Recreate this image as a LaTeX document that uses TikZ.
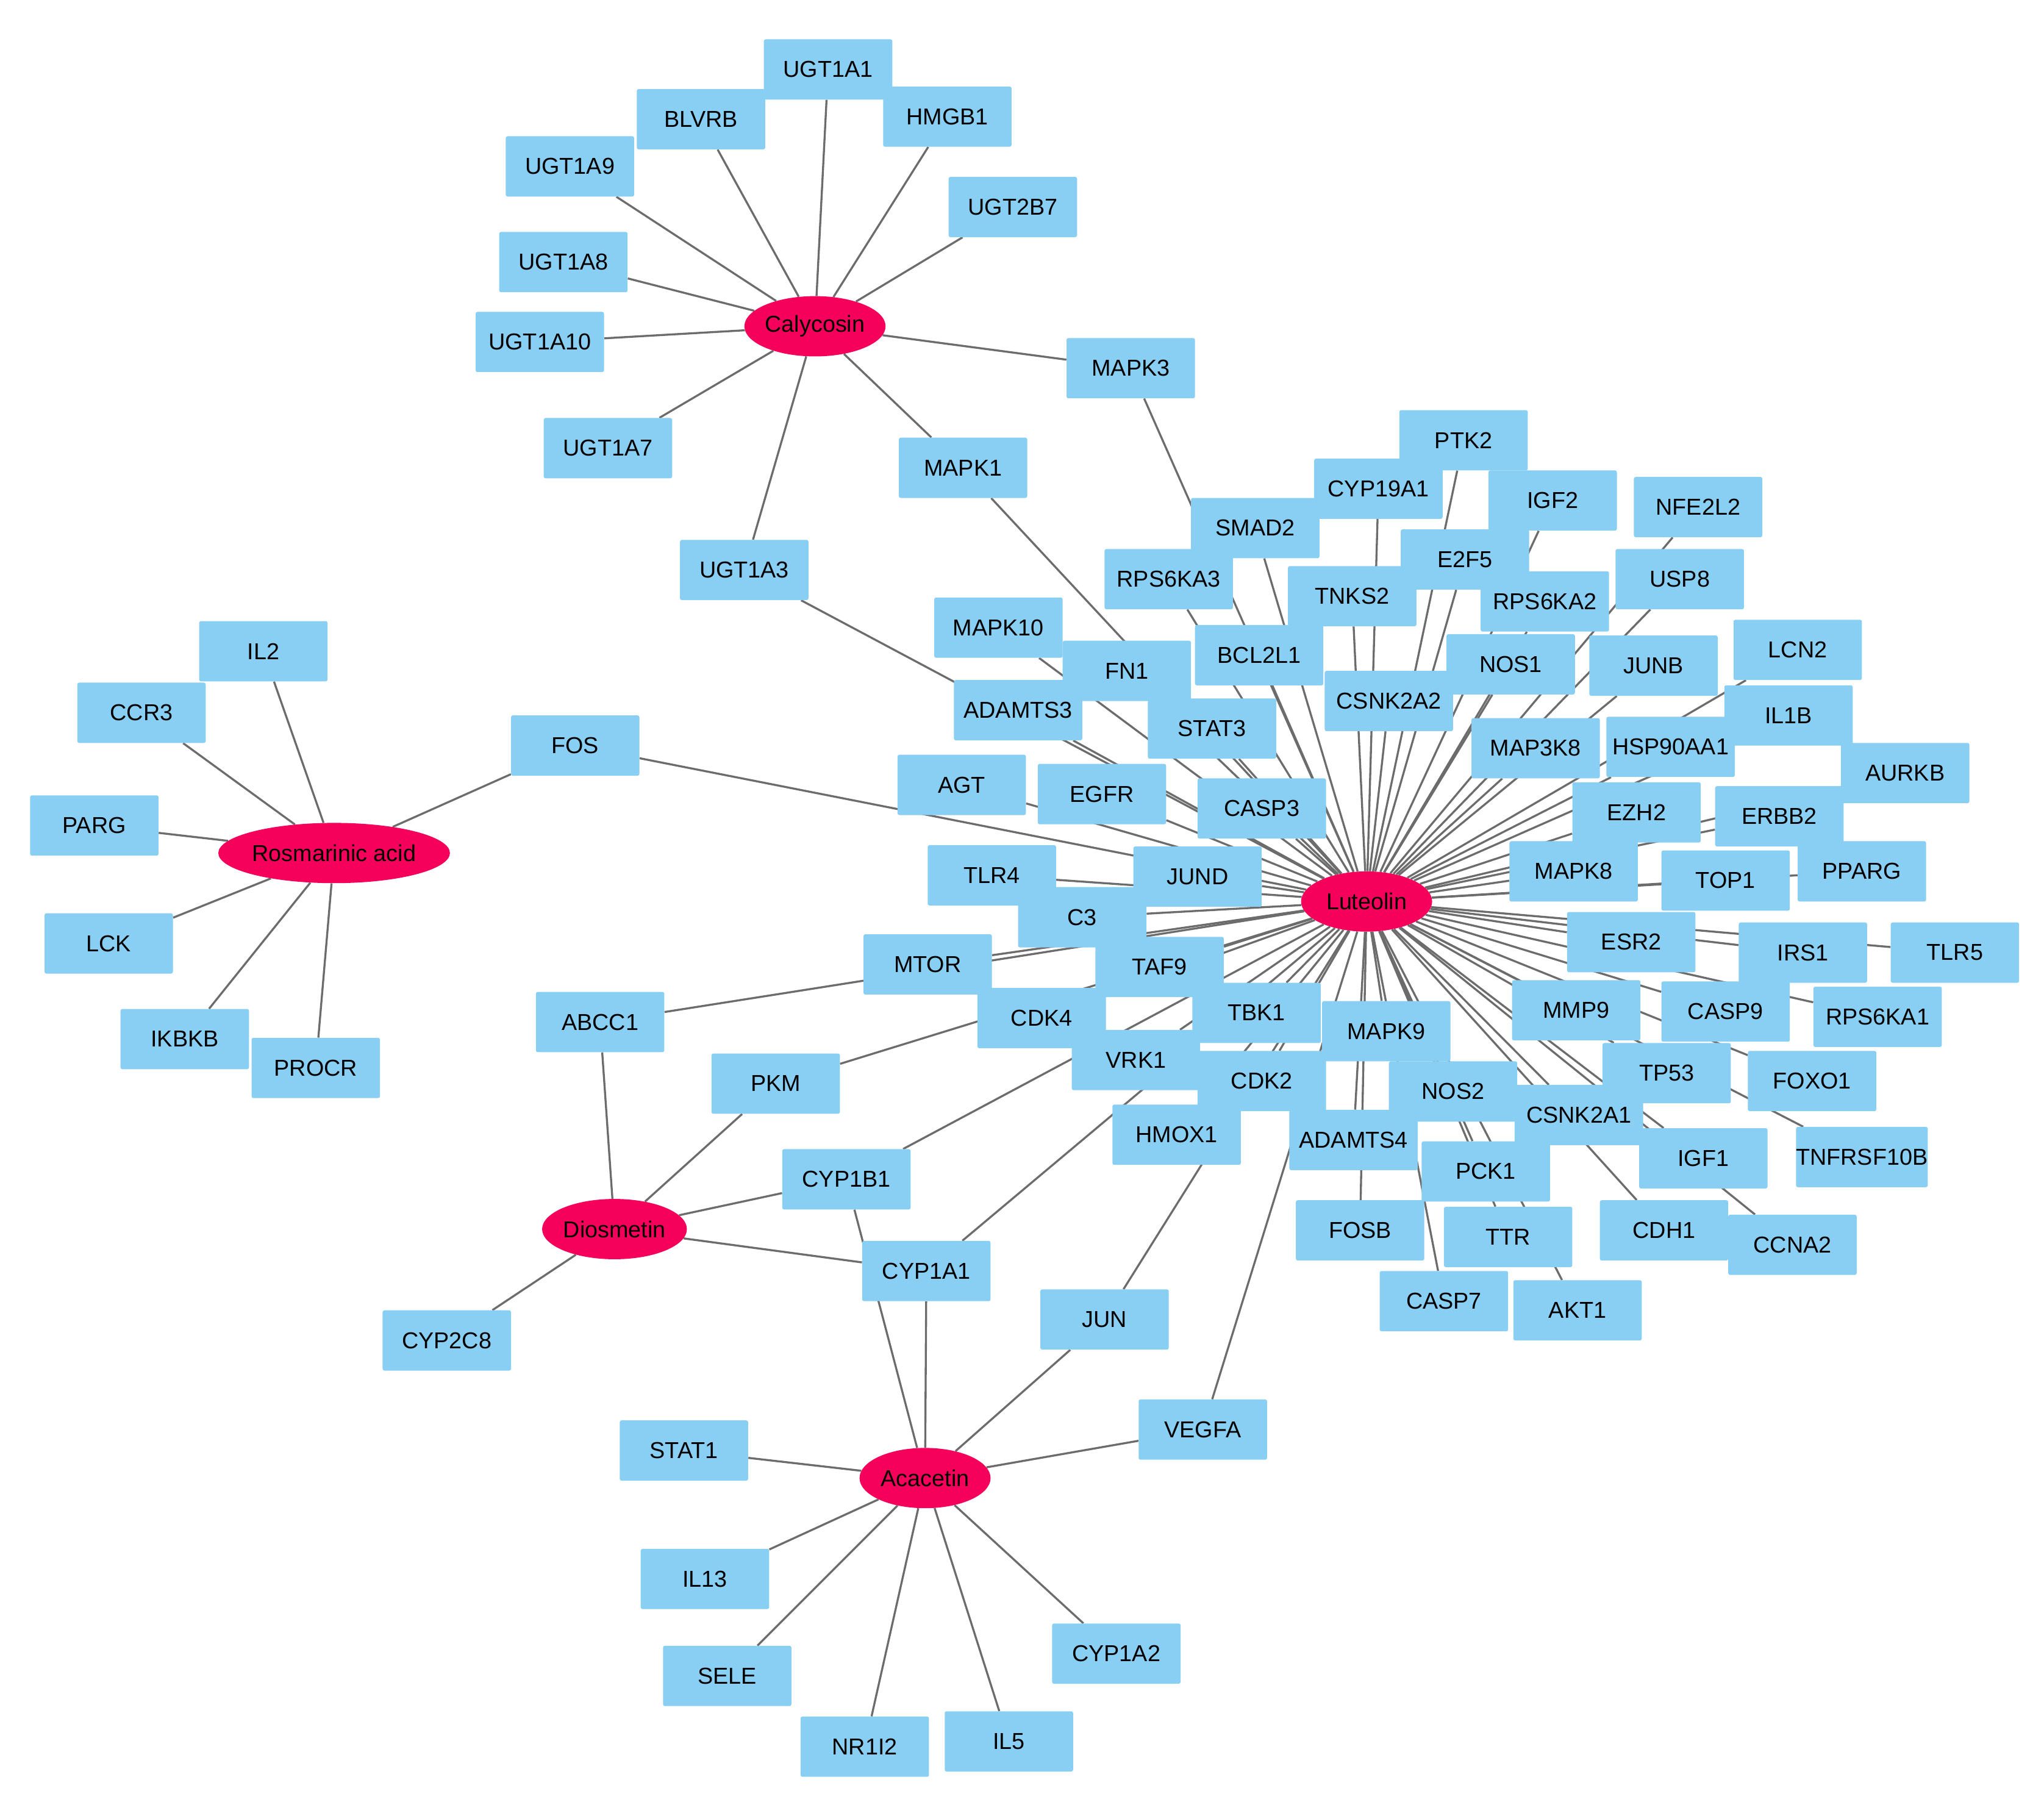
\documentclass[tikz,border=0pt]{standalone}
\usepackage{fontspec}
\setmainfont{Liberation Sans}
\usetikzlibrary{backgrounds,shapes.geometric}
\definecolor{boxc}{RGB}{137,206,243}
\definecolor{hubc}{RGB}{245,0,90}
\tikzset{box/.style={fill=boxc,minimum width=4.9cm,minimum height=2.3cm,inner sep=0pt,font=\fontsize{25}{28}\selectfont,rounded corners=2pt},
hub/.style={ellipse,fill=hubc,minimum width=5cm,minimum height=2.3cm,inner sep=0pt,font=\fontsize{25}{28}\selectfont},
edge/.style={draw=gray!85!black,line width=2.2pt}}
\begin{document}
\begin{tikzpicture}[x=0.05cm,y=-0.05cm]
\useasboundingbox (0,0) rectangle (1560,1375);
\node[hub] (Calycosin) at (622,249) {Calycosin};
\node[hub] (Luteolin) at (1043,688) {Luteolin};
\node[hub] (Diosmetin) at (469,938) {Diosmetin};
\node[hub] (Acacetin) at (706,1128) {Acacetin};
\node[hub] (Rosm) at (255,651) {Rosmarinic acid};
\foreach \n/\x/\y in {UGT1A1/632/53,BLVRB/535/91,HMGB1/723/89,UGT1A9/435/127,UGT2B7/773/158,UGT1A8/430/200,UGT1A10/412/261,MAPK3/863/281,UGT1A7/464/342,MAPK1/735/357,UGT1A3/568/435,
PTK2/1117/336,CYP19A1/1052/373,IGF2/1185/382,NFE2L2/1296/387,SMAD2/958/403,RPS6KA3/892/442,E2F5/1118/427,USP8/1282/442,TNKS2/1032/455,RPS6KA2/1179/459,MAPK10/762/479,FN1/860/512,BCL2L1/961/500,NOS1/1153/507,JUNB/1262/508,LCN2/1372/496,ADAMTS3/777/542,CSNK2A2/1060/535,STAT3/925/556,IL1B/1365/546,MAP3K8/1172/571,HSP90AA1/1275/570,AURKB/1454/590,FOS/439/569,AGT/734/599,EGFR/841/606,CASP3/963/617,EZH2/1249/620,ERBB2/1358/623,TLR4/757/668,JUND/914/669,MAPK8/1201/665,TOP1/1317/672,PPARG/1421/665,C3/826/700,MTOR/708/736,TAF9/885/738,ESR2/1245/719,IRS1/1376/727,TLR5/1492/727,ABCC1/458/780,CDK4/795/777,TBK1/959/773,MAPK9/1058/787,MMP9/1203/771,CASP9/1317/772,RPS6KA1/1433/776,VRK1/867/809,PKM/592/827,TP53/1272/819,FOXO1/1383/825,CDK2/963/825,NOS2/1109/833,CSNK2A1/1205/851,HMOX1/898/866,ADAMTS4/1033/870,IGF1/1300/884,TNFRSF10B/1421/883,PCK1/1134/894,CYP1B1/646/900,FOSB/1038/939,TTR/1151/944,CDH1/1270/939,CCNA2/1368/950,CYP1A1/707/970,CASP7/1102/993,AKT1/1204/1000,JUN/843/1007,CYP2C8/341/1023,VEGFA/918/1091,STAT1/522/1107,IL13/538/1205,SELE/555/1279,CYP1A2/852/1262,NR1I2/660/1333,IL5/770/1329,
IL2/201/497,CCR3/108/544,PARG/72/630,LCK/83/720,IKBKB/141/793,PROCR/241/815}
  \node[box] (\n) at (\x,\y) {\n};
\begin{scope}[on background layer]
\foreach \n in {UGT1A1,BLVRB,HMGB1,UGT1A9,UGT2B7,UGT1A8,UGT1A10,UGT1A7,UGT1A3,MAPK1,MAPK3}
  \draw[edge] (Calycosin) -- (\n);
\foreach \n in {IL2,CCR3,PARG,LCK,IKBKB,PROCR,FOS}
  \draw[edge] (Rosm) -- (\n);
\foreach \n in {ABCC1,PKM,CYP1B1,CYP1A1,CYP2C8}
  \draw[edge] (Diosmetin) -- (\n);
\foreach \n in {CYP1A1,CYP1B1,JUN,VEGFA,STAT1,IL13,SELE,NR1I2,IL5,CYP1A2}
  \draw[edge] (Acacetin) -- (\n);
\foreach \n in {PTK2,CYP19A1,IGF2,NFE2L2,SMAD2,RPS6KA3,E2F5,USP8,TNKS2,RPS6KA2,MAPK10,FN1,BCL2L1,NOS1,JUNB,LCN2,ADAMTS3,CSNK2A2,STAT3,IL1B,MAP3K8,HSP90AA1,AURKB,AGT,EGFR,CASP3,EZH2,ERBB2,TLR4,JUND,MAPK8,TOP1,PPARG,C3,TAF9,ESR2,IRS1,TLR5,CDK4,TBK1,MAPK9,MMP9,CASP9,RPS6KA1,VRK1,TP53,FOXO1,CDK2,NOS2,CSNK2A1,HMOX1,ADAMTS4,IGF1,TNFRSF10B,PCK1,FOSB,TTR,CDH1,CCNA2,CASP7,AKT1,MAPK3,MAPK1,UGT1A3,FOS,MTOR,ABCC1,PKM,CYP1B1,CYP1A1,JUN,VEGFA}
  \draw[edge] (Luteolin) -- (\n);
\end{scope}
\end{tikzpicture}
\end{document}
